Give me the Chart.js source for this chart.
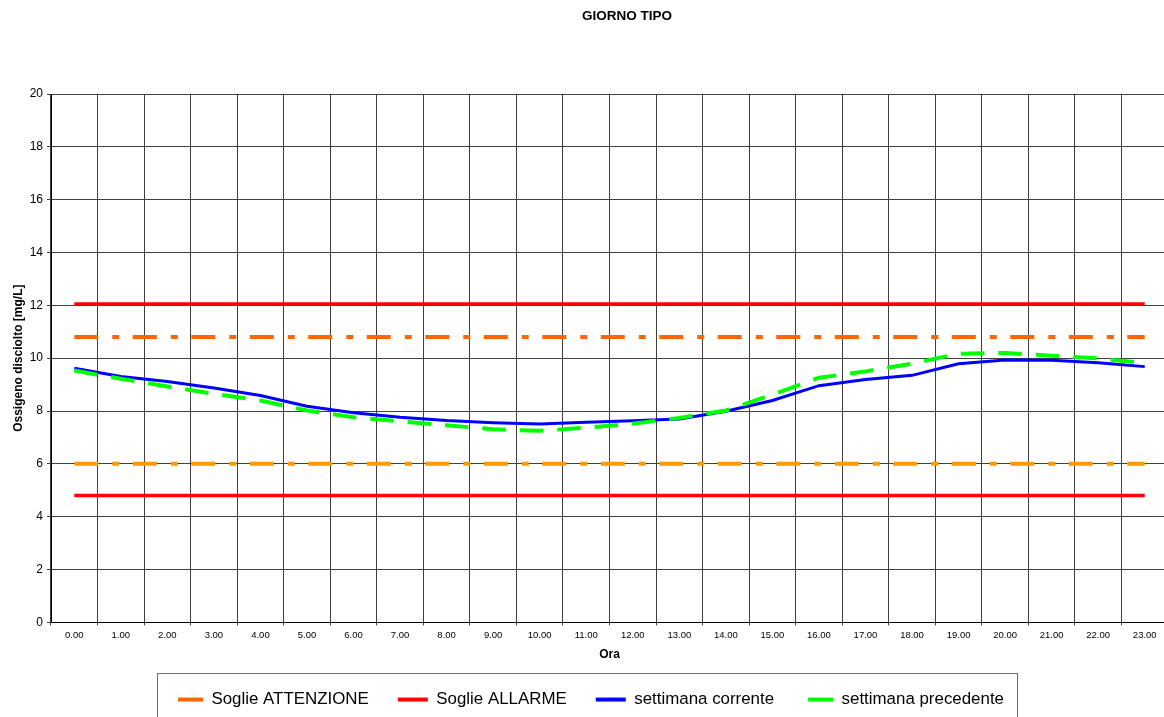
<!DOCTYPE html>
<html lang="it">
<head>
<meta charset="utf-8">
<title>Giorno tipo</title>
<script src="https://cdn.jsdelivr.net/npm/chart.js@4.4.1/dist/chart.umd.min.js"></script>
<style>
    html, body { margin: 0; padding: 0; background: #fff; overflow: hidden; }
    canvas { display: block; }
</style>
</head>
<body>
<canvas id="chart" width="1168" height="718"></canvas>
<script>
const FONT = "'Liberation Sans', Arial, Helvetica, sans-serif";

// --- DATA ---
const TITOLO = 'GIORNO TIPO';
const ORE = ['0.00', '1.00', '2.00', '3.00', '4.00', '5.00', '6.00', '7.00', '8.00', '9.00', '10.00', '11.00',
             '12.00', '13.00', '14.00', '15.00', '16.00', '17.00', '18.00', '19.00', '20.00', '21.00', '22.00', '23.00'];

const SETTIMANA_CORRENTE = [9.62, 9.31, 9.12, 8.87, 8.59, 8.18, 7.93, 7.76, 7.64, 7.56, 7.51, 7.57,
                            7.63, 7.70, 7.99, 8.40, 8.96, 9.19, 9.35, 9.79, 9.93, 9.92, 9.83, 9.68];
const SETTIMANA_PRECEDENTE = [9.53, 9.22, 8.93, 8.65, 8.40, 8.02, 7.76, 7.61, 7.46, 7.31, 7.25, 7.37,
                              7.52, 7.74, 8.02, 8.62, 9.26, 9.50, 9.79, 10.17, 10.20, 10.09, 9.99, 9.82];

// thresholds are flat over the whole day
const ALLARME_SUP = 12.05;
const ATTENZIONE_SUP = 10.8;
const ATTENZIONE_INF = 6.0;
const ALLARME_INF = 4.8;

const COLORS = {
    attenzioneSup: '#FF6600',
    attenzioneInf: '#FF9900',
    allarme: '#FF0000',
    corrente: '#0000FF',
    precedente: '#00FF00',
    grid: '#404040'
};

const DASH_DOT = [24, 14, 7, 13.5];

function soglia(v) {
    return ORE.map(() => v);
}

const lineBase = { fill: false, tension: 0, pointRadius: 0, pointHoverRadius: 0 };

const datasets = [
    { ...lineBase, label: 'Soglie ATTENZIONE', data: soglia(ATTENZIONE_SUP), borderColor: COLORS.attenzioneSup,
      borderWidth: 4, borderDash: DASH_DOT, order: 3, legendDash: [25, 5], legendOffset: 25 },
    { ...lineBase, label: 'Soglie ALLARME', data: soglia(ALLARME_SUP), borderColor: COLORS.allarme,
      borderWidth: 3.5, order: 3 },
    { ...lineBase, label: 'settimana corrente', data: SETTIMANA_CORRENTE, borderColor: COLORS.corrente,
      borderWidth: 3, order: 1 },
    { ...lineBase, label: 'settimana precedente', data: SETTIMANA_PRECEDENTE, borderColor: COLORS.precedente,
      borderWidth: 4, borderDash: [23.5, 14], order: 0, legendDash: [25, 5], legendOffset: 25 },
    { ...lineBase, label: 'Soglie ATTENZIONE inf', data: soglia(ATTENZIONE_INF), borderColor: COLORS.attenzioneInf,
      borderWidth: 4, borderDash: DASH_DOT, order: 3, noLegend: true },
    { ...lineBase, label: 'Soglie ALLARME inf', data: soglia(ALLARME_INF), borderColor: COLORS.allarme,
      borderWidth: 3.5, order: 3, noLegend: true }
];

// title sits right of centre in the original, so draw it by hand
const titlePlugin = {
    id: 'titolo',
    afterDraw(chart) {
        const ctx = chart.ctx;
        ctx.save();
        ctx.font = 'bold 13.5px ' + FONT;
        ctx.fillStyle = '#000';
        ctx.textAlign = 'center';
        ctx.textBaseline = 'middle';
        ctx.fillText(TITOLO, 627, 16);
        ctx.restore();
    }
};

// frame round the legend
const legendFrame = {
    id: 'cornice',
    afterDraw(chart) {
        const lg = chart.legend;
        const hb = lg.legendHitBoxes;
        if (!hb || !hb.length) return;
        const first = hb[0];
        const last = hb[hb.length - 1];
        const left = Math.round(first.left - 16) + 0.5;
        const right = Math.round(last.left + last.width + 13) + 0.5;
        const top = Math.round(lg.top + 11) + 0.5;
        const ctx = chart.ctx;
        ctx.save();
        ctx.strokeStyle = '#6e6e6e';
        ctx.lineWidth = 1;
        ctx.strokeRect(left, top, right - left, 100);
        ctx.restore();
    }
};

Chart.defaults.font.family = FONT;
Chart.defaults.color = '#000';

const chart = new Chart(document.getElementById('chart').getContext('2d'), {
    type: 'line',
    data: { labels: ORE, datasets: datasets },
    options: {
        responsive: false,
        animation: false,
        layout: { padding: { top: 94, left: 9, right: 0, bottom: 0 } },
        scales: {
            x: {
                offset: true,
                grid: { offset: true, color: COLORS.grid, lineWidth: 1, tickLength: 3 },
                border: { color: '#000', width: 1 },
                ticks: { font: { size: 9.5 }, color: '#000', padding: 4, maxRotation: 0, autoSkip: false },
                title: { display: true, text: 'Ora', color: '#000', font: { size: 12, weight: 'bold' },
                         padding: { top: 0, bottom: 0 } },
                afterFit(s) { s.height = 39.75; }
            },
            y: {
                min: 0,
                max: 20,
                grid: { color: COLORS.grid, lineWidth: 1, tickLength: 4 },
                border: { color: '#000', width: 1 },
                ticks: { stepSize: 2, font: { size: 12 }, color: '#000', padding: 4 },
                title: { display: true, text: 'Ossigeno disciolto [mg/L]', color: '#000',
                         font: { size: 12, weight: 'bold' }, padding: { top: 2, bottom: 0 } },
                afterFit(s) { s.width = 42; }
            }
        },
        plugins: {
            title: { display: false },
            tooltip: { enabled: false },
            legend: {
                position: 'bottom',
                labels: {
                    font: { size: 16.9 },
                    color: '#000',
                    padding: 29,
                    usePointStyle: true,
                    pointStyleWidth: 30,
                    boxHeight: 4,
                    generateLabels: (c) => c.data.datasets.map((ds, i) => ({
                        text: ds.label,
                        fillStyle: ds.borderColor,
                        strokeStyle: ds.borderColor,
                        lineWidth: 4,
                        lineDash: ds.legendDash || [],
                        lineDashOffset: ds.legendOffset || 0,
                        pointStyle: 'line',
                        fontColor: '#000',
                        hidden: false,
                        datasetIndex: i
                    })),
                    filter: (item, data) => !data.datasets[item.datasetIndex].noLegend
                }
            }
        }
    },
    plugins: [titlePlugin, legendFrame]
});
</script>
</body>
</html>
